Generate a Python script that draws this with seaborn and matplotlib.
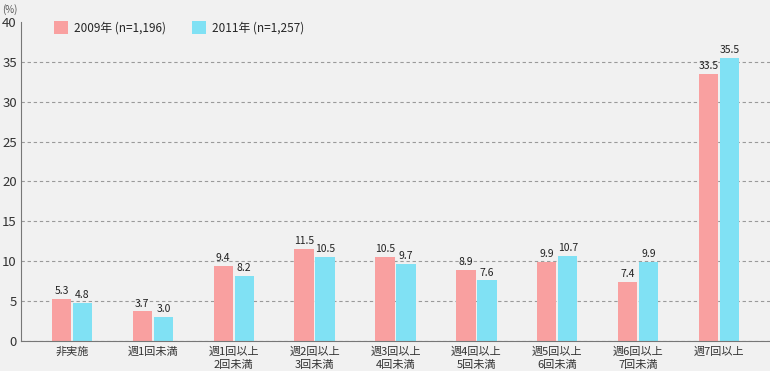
import matplotlib
matplotlib.use('Agg')
import matplotlib.pyplot as plt
import seaborn as sns
import pandas as pd

categories = ['非実施', '週1回未満', '週1回以上\n2回未満', '週2回以上\n3回未満', '週3回以上\n4回未満',
              '週4回以上\n5回未満', '週5回以上\n6回未満', '週6回以上\n7回未満', '週7回以上']
vals_2009 = [5.3, 3.7, 9.4, 11.5, 10.5, 8.9, 9.9, 7.4, 33.5]
vals_2011 = [4.8, 3.0, 8.2, 10.5, 9.7, 7.6, 10.7, 9.9, 35.5]
series = ['2009年 (n=1,196)', '2011年 (n=1,257)']
colors = ['#f9a0a0', '#80e1f4']

df = pd.DataFrame({
    'cat': categories * 2,
    'val': vals_2009 + vals_2011,
    'series': [series[0]] * len(categories) + [series[1]] * len(categories),
})

sns.set_style('white')
plt.rcParams['font.family'] = ['Noto Sans CJK JP', 'DejaVu Sans']
bg = '#f1f1f1'

fig = plt.figure(figsize=(7.7, 3.71), dpi=100, facecolor=bg)
ax = fig.add_axes([0.0273, 0.0809, 0.9727, 0.8598])
ax.set_facecolor(bg)

sns.barplot(data=df, x='cat', y='val', hue='series', palette=colors,
            width=0.52, gap=0.08, ax=ax, saturation=1, edgecolor='none')

for cont in ax.containers:
    ax.bar_label(cont, fmt='%.1f', fontsize=7.5, padding=2, color='#222222')

ax.set_ylim(0, 40)
ax.set_xlim(-0.63, 8.63)
ax.set_yticks(range(0, 41, 5))
ax.yaxis.grid(True, linestyle=(0, (3, 2.5)), color='#9a9a9a', linewidth=0.8)
ax.set_axisbelow(True)
gl = ax.yaxis.get_gridlines()
gl[-1].set_visible(False)
ax.tick_params(axis='y', length=0, labelsize=9.5, pad=3, colors='#333333')
ax.tick_params(axis='x', length=0, labelsize=8, pad=4, colors='#333333')
for lbl in ax.get_xticklabels():
    lbl.set_linespacing(1.35)
ax.set_xlabel('')
ax.set_ylabel('')
for s in ['top', 'right']:
    ax.spines[s].set_visible(False)
ax.spines['left'].set_color('#777777')
ax.spines['bottom'].set_color('#777777')

fig.text(0.003, 0.99, '(%)', fontsize=7, color='#555555', va='top', ha='left')

ax.legend(loc='upper left', bbox_to_anchor=(0.03, 1.035), ncol=2, frameon=False,
          fontsize=8.5, handlelength=1.2, handleheight=1.2, columnspacing=2.2,
          handletextpad=0.5, title=None)

fig.savefig('out.png', dpi=100, facecolor=bg)
